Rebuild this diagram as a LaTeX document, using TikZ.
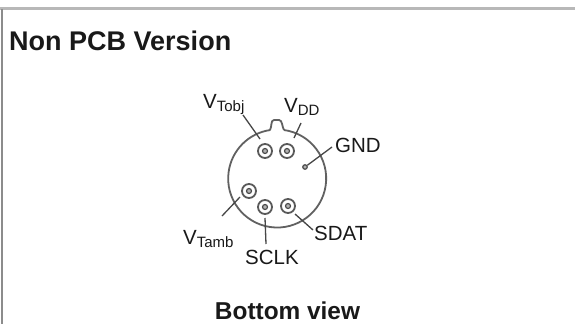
\documentclass[tikz,border=0pt]{standalone}
\usepackage{fontspec}
\setmainfont{Liberation Sans}
\definecolor{rim}{gray}{0.38}
\definecolor{frameg}{gray}{0.72}
\definecolor{leftg}{gray}{0.55}
\tikzset{
  x=1pt,y=-1pt,
  lab/.style={inner sep=0pt,font=\fontsize{20.5}{20.5}\selectfont,text=black!90,anchor=base west},
  lead/.style={draw=black!72,line width=1.3pt},
  pinring/.style={circle,draw=black!65,line width=1.8pt,fill=white,minimum size=14pt,inner sep=0pt},
  pincore/.style={circle,draw=black!70,line width=1.2pt,fill=black!30,minimum size=5pt,inner sep=0pt}
}
\newcommand{\subs}[1]{\raisebox{-3pt}{\fontsize{15}{15}\selectfont #1}}
\begin{document}
\begin{tikzpicture}
\useasboundingbox (0,0) rectangle (575,324);
\fill[white] (0,0) rectangle (575,324);
\draw[frameg,line width=3pt] (0,8.5) -- (575,8.5);
\draw[leftg,line width=2.4pt] (2,9) -- (2,324);
\node[lab,font=\fontsize{27}{27}\selectfont\bfseries] (title) at (9,50) {Non PCB Version};
\node[lab,font=\fontsize{24.4}{24.4}\selectfont\bfseries,anchor=base] (view) at (287.5,319) {Bottom view};
% body
\draw[rim,line width=1.8pt] (270,130) .. controls (272,127) and (270.5,120) .. (274,120) -- (279,120) .. controls (282.5,120) and (282,127) .. (284,130);
\draw[rim,line width=1.8pt] (284,130) arc[start angle=-82,end angle=262,radius=49];
% pins
\foreach \n/\px/\py in {a/265/151,b/287/151,c/249/191,d/265/207,e/288/206}{
  \node[pinring] (\n) at (\px,\py) {};
  \node[pincore] at (\px,\py) {};
}
\node[pincore,minimum size=4.5pt] (g) at (305,167) {};
% labels
\node[lab] (vtobj) at (203,108) {V\subs{Tobj}};
\node[lab] (vdd) at (284,112) {V\subs{DD}};
\node[lab] (gnd) at (335,152) {GND};
\node[lab] (vtamb) at (183,244) {V\subs{Tamb}};
\node[lab] (sclk) at (245,264) {SCLK};
\node[lab] (sdat) at (314,240) {SDAT};
% leads
\coordinate (l1) at (243,115); \coordinate (l1e) at (260,139);
\coordinate (l2) at (301,123); \coordinate (l2e) at (294,138);
\coordinate (l3) at (332,147);
\coordinate (l4) at (222,216); \coordinate (l4e) at (240,197);
\coordinate (l5) at (266,244); \coordinate (l5e) at (265,218);
\coordinate (l6) at (313,230); \coordinate (l6e) at (295,214);
\draw[lead] (l1) -- (l1e);
\draw[lead] (l2) -- (l2e);
\draw[lead] (l3) -- (g);
\draw[lead] (l4) -- (l4e);
\draw[lead] (l5) -- (l5e);
\draw[lead] (l6) -- (l6e);
\end{tikzpicture}
\end{document}
